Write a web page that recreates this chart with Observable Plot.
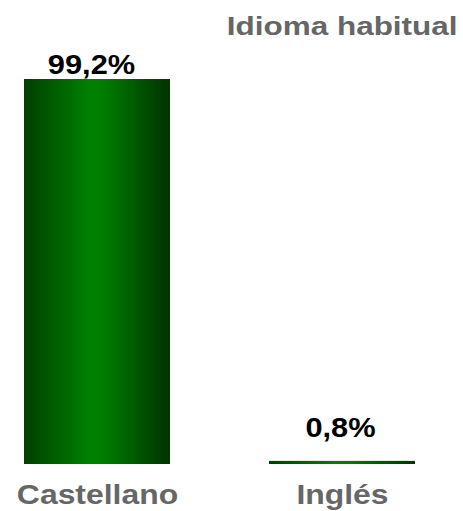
<!DOCTYPE html>
<html><head><meta charset="utf-8">
<script src="https://cdn.jsdelivr.net/npm/d3@7"></script>
<script src="https://cdn.jsdelivr.net/npm/@observablehq/plot@0.6"></script>
<style>
body{margin:0;background:#fff;}
</style></head><body><div id="chart"></div>
<script>
const title = "Idioma habitual";
const categories = ["Castellano", "Inglés"];
const values = [99.2, 0.8];
const valueLabels = ["99,2%", "0,8%"];

const data = categories.map((c, i) => ({category: c, value: values[i], label: valueLabels[i]}));

const gradientDefs = () => {
  const defs = d3.create("svg:defs");
  const g = defs.append("linearGradient").attr("id", "barGrad")
    .attr("x1", "0").attr("x2", "1").attr("y1", "0").attr("y2", "0");
  g.append("stop").attr("offset", "0").attr("stop-color", "#003f00");
  g.append("stop").attr("offset", "0.45").attr("stop-color", "#008000");
  g.append("stop").attr("offset", "0.55").attr("stop-color", "#007c00");
  g.append("stop").attr("offset", "1").attr("stop-color", "#003300");
  return defs.node();
};

const font = "'Liberation Sans', Arial, Helvetica, sans-serif";

const chart = Plot.plot({
  width: 463,
  height: 511,
  marginTop: 79,
  marginBottom: 47,
  marginLeft: 24,
  marginRight: 48,
  style: {fontFamily: font, background: "#fff"},
  x: {type: "band", domain: categories, paddingInner: 0.405, paddingOuter: 0, axis: null},
  y: {domain: [0, 99.2], axis: null},
  marks: [
    gradientDefs,
    Plot.barY(data, {x: "category", y: "value", fill: "url(#barGrad)"}),
    Plot.text(data.filter(d => d.value > 50), {x: "category", y: "value", text: "label", lineAnchor: "bottom", dx: -6, dy: -6, fontSize: 28.5, fontWeight: "bold", fill: "#000"}),
    Plot.text(data.filter(d => d.value <= 50), {x: "category", y: "value", text: "label", lineAnchor: "bottom", dx: -2, dy: -24, fontSize: 28.5, fontWeight: "bold", fill: "#000"}),
    Plot.text(data, {x: "category", frameAnchor: "bottom", text: "category", lineAnchor: "top", dy: 20, fontSize: 27.5, fontWeight: "bold", fill: "#666"}),
    Plot.text([title], {frameAnchor: "top-right", textAnchor: "end", lineAnchor: "bottom", dx: 42, dy: -45, fontSize: 26, fontWeight: "bold", fill: "#666"})
  ]
});

document.getElementById("chart").appendChild(chart);

// horizontally widen the bold lettering, as in the reference
const widen = new Map([[title, 1.21], ...categories.map(c => [c, 1.16]), ...valueLabels.map(v => [v, 1.08])]);
chart.querySelectorAll("text").forEach(t => {
  const k = widen.get(t.textContent);
  if (k) {
    const w = t.getComputedTextLength();
    t.setAttribute("textLength", (w * k).toFixed(1));
    t.setAttribute("lengthAdjust", "spacingAndGlyphs");
  }
});
</script></body></html>
